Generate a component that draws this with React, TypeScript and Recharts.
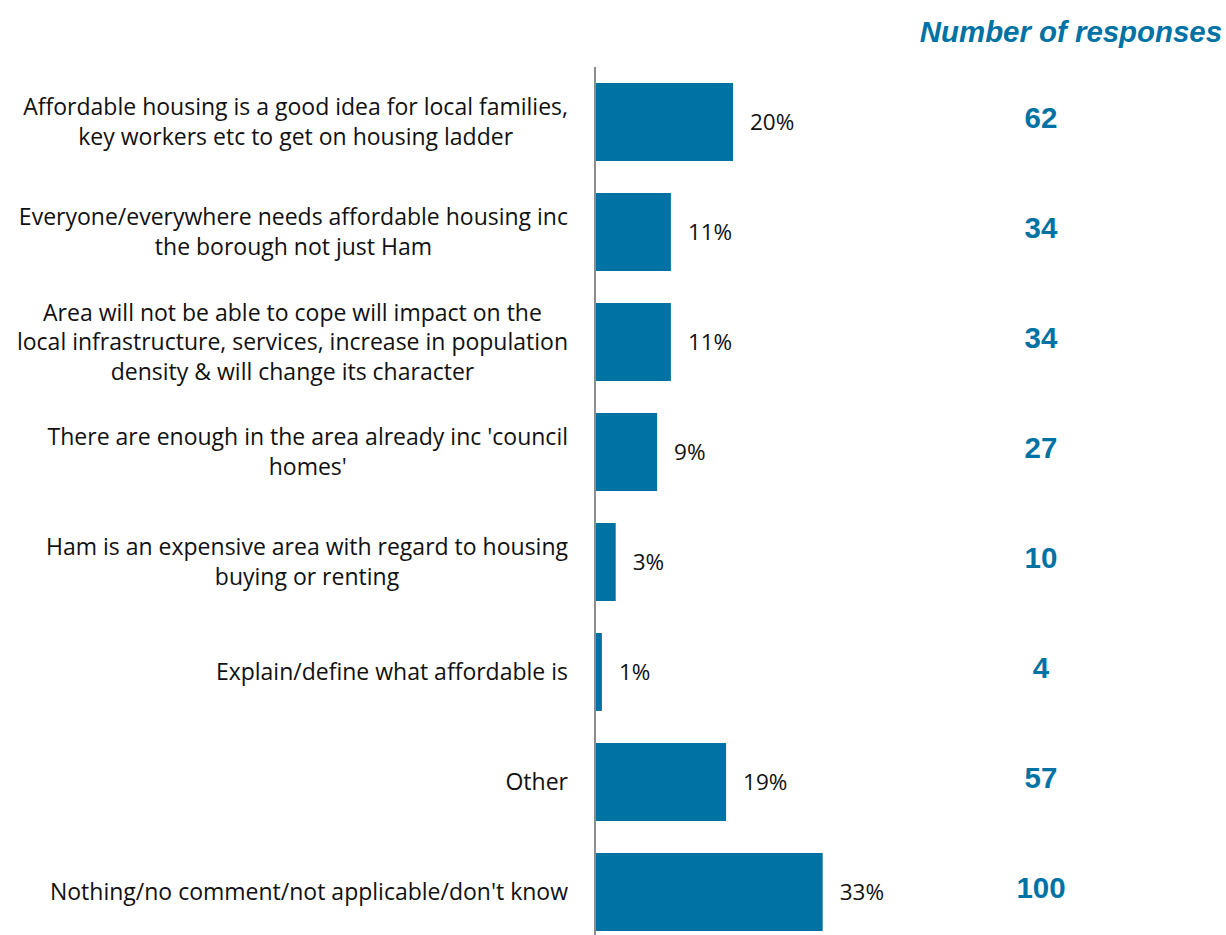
import { BarChart, Bar, XAxis, YAxis, LabelList } from 'recharts'

const categories = [
  'Affordable housing is a good idea for local families,\nkey workers etc to get on housing ladder',
  'Everyone/everywhere needs affordable housing inc\nthe borough not just Ham',
  'Area will not be able to cope will impact on the\nlocal infrastructure, services, increase in population\ndensity & will change its character',
  "There are enough in the area already inc 'council\nhomes'",
  'Ham is an expensive area with regard to housing\nbuying or renting',
  'Explain/define what affordable is',
  'Other',
  "Nothing/no comment/not applicable/don't know",
]
const percents = [20, 11, 11, 9, 3, 1, 19, 33]
const responses = [62, 34, 34, 27, 10, 4, 57, 100]

const BLUE = '#0072A3'
const TEXT_FONT = '"Open Sans", Lato, sans-serif'
const HEAD_FONT = '"Liberation Sans", Arial, sans-serif'
const LABEL_SIZE = 23

const data = categories.map((name, i) => ({
  name,
  pct: percents[i],
  count: String(responses[i]),
}))

let ctx: CanvasRenderingContext2D | null = null
function measure(s: string) {
  if (!ctx) ctx = document.createElement('canvas').getContext('2d')
  if (!ctx) return s.length * LABEL_SIZE * 0.5
  ctx.font = `${LABEL_SIZE}px ${TEXT_FONT}`
  return ctx.measureText(s).width
}

// lines centred on each other, block right-aligned to the axis
const CategoryTick = ({ x, y, payload }: any) => {
  const lines = String(payload.value).split('\n')
  const lh = 29.5
  const start = y - ((lines.length - 1) * lh) / 2
  const w = Math.max(...lines.map(measure))
  const cx = x - w / 2
  return (
    <text x={cx} y={start} textAnchor="middle" fontFamily={TEXT_FONT} fontSize={LABEL_SIZE} fill="#111">
      {lines.map((l, i) => (
        <tspan key={i} x={cx} y={start + i * lh} dy="0.35em">
          {l}
        </tspan>
      ))}
    </text>
  )
}

const CountTick = ({ y, payload }: any) => (
  <text x={1041} y={y - 4} dy="0.35em" textAnchor="middle" fontFamily={HEAD_FONT}
    fontWeight="bold" fontSize={29.5} fill={BLUE}>
    {payload.value}
  </text>
)

export default function App() {
  return (
    <div style={{ position: 'absolute', left: 0, top: 0, width: 1226, height: 935, overflow: 'hidden', background: '#fff' }}>
      <div style={{
        position: 'absolute', right: 4, top: 15, fontFamily: HEAD_FONT, fontWeight: 'bold',
        fontStyle: 'italic', fontSize: 29.4, color: BLUE,
      }}>
        Number of responses
      </div>
      <BarChart
        width={1226}
        height={960}
        data={data}
        layout="vertical"
        barCategoryGap="14.5%"
        margin={{ top: 67, right: 0, bottom: 13, left: 0 }}
      >
        <XAxis type="number" domain={[0, 60]} hide />
        <YAxis
          yAxisId="left"
          type="category"
          dataKey="name"
          width={595}
          tick={<CategoryTick />}
          tickLine={false}
          axisLine={{ stroke: '#8c8c8c', strokeWidth: 2 }}
          tickMargin={21}
          interval={0}
        />
        <YAxis
          yAxisId="right"
          orientation="right"
          type="category"
          dataKey="count"
          width={217}
          tick={<CountTick />}
          tickLine={false}
          axisLine={false}
          interval={0}
        />
        <Bar yAxisId="left" dataKey="pct" fill={BLUE} isAnimationActive={false}>
          <LabelList
            dataKey="pct"
            position="right"
            offset={17}
            formatter={(v: any) => `${v}%`}
            style={{ fontFamily: TEXT_FONT, fontSize: 22.5, fill: '#111' }}
          />
        </Bar>
      </BarChart>
    </div>
  )
}
